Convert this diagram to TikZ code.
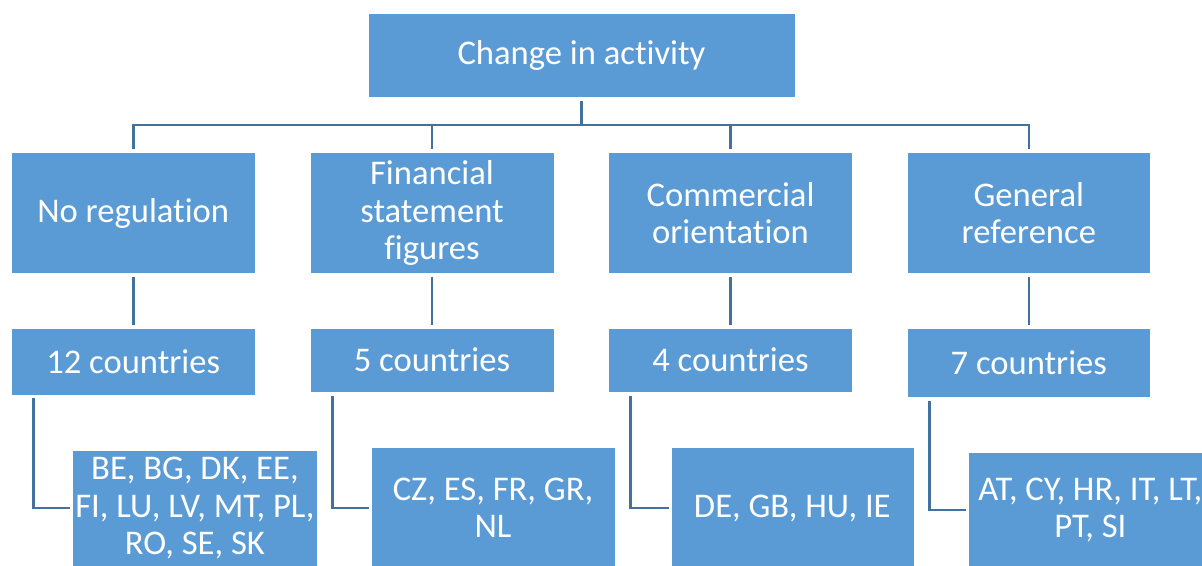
\documentclass[tikz,border=0pt]{standalone}
\usepackage{fontspec}
\setmainfont{Carlito}[RawFeature={-liga;-clig;-dlig}]
\definecolor{boxfill}{HTML}{5B9BD5}
\definecolor{connline}{HTML}{41719C}
\begin{document}
\begin{tikzpicture}[x=1pt,y=-1pt,
  box/.style={rectangle, fill=boxfill, draw=white, line width=0.6pt, text=white, align=center,
    inner sep=0pt, font=\fontsize{34.6}{37.5}\selectfont},
  conn/.style={draw=connline, line width=2.6pt}]
\useasboundingbox (0,0) rectangle (1202,565);
\clip (0,0) rectangle (1202,565);
% top
\node[box, minimum width=427pt, minimum height=84.4pt] (top) at (581.5,55.5) {Change in activity};
% level 1
\node[box, minimum width=243.4pt, minimum height=120.6pt] (b1) at (133.2,213) {No regulation};
\node[box, minimum width=244pt, minimum height=120.6pt] (b2) at (432,213) {Financial\\statement\\figures};
\node[box, minimum width=244.2pt, minimum height=120.6pt] (b3) at (730.5,213) {Commercial\\orientation};
\node[box, minimum width=243pt, minimum height=120.6pt] (b4) at (1028.8,213) {General\\reference};
% level 2
\node[box, minimum width=243.4pt, minimum height=67pt] (c1) at (133.2,361.5) {12 countries};
\node[box, minimum width=244pt, minimum height=64.3pt] (c2) at (432,360.2) {5 countries};
\node[box, minimum width=244.2pt, minimum height=64.3pt] (c3) at (730.5,360.2) {4 countries};
\node[box, minimum width=243pt, minimum height=69pt] (c4) at (1028.8,362.7) {7 countries};
% level 3
\node[box, minimum width=244.3pt, minimum height=116pt] (d1) at (194.9,508) {BE, BG, DK, EE,\\FI, LU, LV, MT, PL,\\RO, SE, SK};
\node[box, minimum width=244pt, minimum height=121.4pt] (d2) at (493,508) {CZ, ES, FR, GR,\\NL};
\node[box, minimum width=243pt, minimum height=121.4pt] (d3) at (792.3,508) {DE, GB, HU, IE};
\node[box, minimum width=243.6pt, minimum height=114.6pt] (d4) at (1090.3,510) {AT, CY, HR, IT, LT,\\PT, SI};
% connectors
\coordinate (bus) at (581.5,125);
\draw[conn, shorten <=3pt] (top.south) -- (bus);
\foreach \n in {b1,b2,b3,b4}{
  \draw[conn, shorten >=3pt] (bus) -| (\n.north);
}
\foreach \a/\b in {b1/c1,b2/c2,b3/c3,b4/c4}{
  \draw[conn, shorten <=3pt, shorten >=3pt] (\a.south) -- (\b.north);
}
\foreach \a/\b in {c1/d1,c2/d2,c3/d3,c4/d4}{
  \draw[conn, shorten <=3pt, shorten >=2pt] ([xshift=22.5pt]\a.south west) |- (\b.west);
}
\end{tikzpicture}
\end{document}
